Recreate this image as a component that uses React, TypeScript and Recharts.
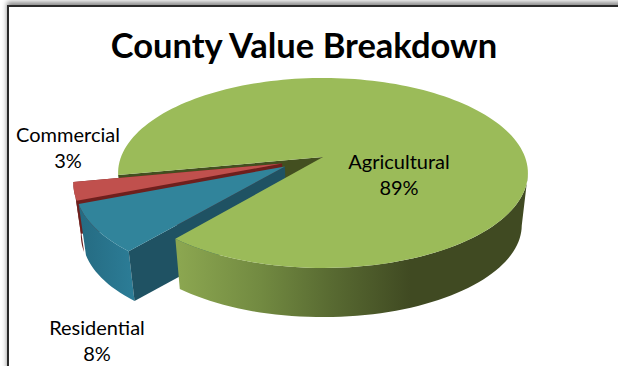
import { PieChart, Pie } from 'recharts'

const sliceNames = ['Agricultural', 'Residential', 'Commercial']
const sliceValues = [89, 8, 3]
const sliceColors = ['#9bbb59', '#31849b', '#c0504d']
const wallColors = ['#434f20', '#1f5263', '#6e1f1d']
// how far each slice is pulled off the disc, as fractions of the radius
const pullX = [0, -0.185, -0.2]
const pullY = [0, 0.1, 0.07]

const labelAnchors: Record<string, [number, number]> = {
  Agricultural: [399, 169],
  Residential: [97, 335],
  Commercial: [68, 142],
}

// projection of the tilted disc: tilt flattens y, lean makes the near edge larger
const tilt = 0.457
const lean = 0.168
const bottomScale = 0.97
const bottomDrop = 52.5

const tableData = sliceNames.map((name, i) => ({
  name,
  value: sliceValues[i],
  fill: sliceColors[i],
  pullX: pullX[i],
  pullY: pullY[i],
}))

type Pt = [number, number]

function projector(cx: number, cy: number, radius: number, ox: number, oy: number) {
  const rad = Math.PI / 180
  const onDisc = (u: number, v: number): Pt => {
    const s = 1 / (1 - lean * v)
    return [cx + radius * u * s, cy + radius * tilt * v * s]
  }
  const top = (angle: number, r = 1): Pt =>
    onDisc(ox + r * Math.cos(angle * rad), oy - r * Math.sin(angle * rad))
  const drop = ([x, y]: Pt): Pt => [
    cx + (x - cx) * bottomScale,
    cy + (y - cy) * bottomScale + bottomDrop,
  ]
  return { top, drop }
}

const toPath = (pts: Pt[]) =>
  'M' + pts.map(p => `${p[0].toFixed(2)},${p[1].toFixed(2)}`).join('L') + 'Z'

function sweep(from: number, to: number) {
  const steps = Math.max(2, Math.ceil(Math.abs(to - from) / 2))
  const out: number[] = []
  for (let i = 0; i <= steps; i++) out.push(from + ((to - from) * i) / steps)
  return out
}

// one layer per Pie, so the stacking order can differ from the data order
function sliceShape(layer: string) {
  return function Slice(props: any) {
    const { cx, cy, outerRadius, startAngle, endAngle, name, fill, payload } = props
    const i = sliceNames.indexOf(name)
    const { top, drop } = projector(cx, cy, outerRadius, payload.pullX, payload.pullY)
    const rim = sweep(startAngle, endAngle).map(a => top(a))
    const face = toPath([top(0, 0), ...rim])

    if (layer === 'innerWall') {
      if (name !== 'Agricultural') return <g />
      const a = top(startAngle)
      const c = top(0, 0)
      return <path d={toPath([c, a, drop(a), drop(c)])} fill={wallColors[i]} />
    }
    if (layer !== name) return <g />

    if (name === 'Agricultural') {
      // only the front of the rim shows, from the cut edge round to the widest point on the right
      const front = sweep(endAngle, -10).map(a => top(a))
      return (
        <g>
          <defs>
            <linearGradient id="greenRim" gradientUnits="userSpaceOnUse" x1="180" y1="0" x2="410" y2="0">
              <stop offset="0" stopColor="#8ba650" />
              <stop offset="0.35" stopColor="#728a41" />
              <stop offset="0.65" stopColor="#596b32" />
              <stop offset="1" stopColor="#404a22" />
            </linearGradient>
          </defs>
          <path d={toPath([...front, ...front.map(drop).reverse()])} fill="url(#greenRim)" />
          <path d={face} fill={fill} />
        </g>
      )
    }

    const cutEdge = name === 'Residential' ? top(startAngle) : top(endAngle)
    const apex = top(0, 0)
    return (
      <g>
        <defs>
          <linearGradient id="blueRim" gradientUnits="userSpaceOnUse" x1="80" y1="0" x2="135" y2="0">
            <stop offset="0" stopColor="#256b82" />
            <stop offset="1" stopColor="#2c7d97" />
          </linearGradient>
        </defs>
        <path d={toPath([...rim, ...rim.map(drop).reverse()])} fill={name === 'Residential' ? 'url(#blueRim)' : wallColors[i]} />
        <path d={toPath([apex, cutEdge, drop(cutEdge), drop(apex)])} fill={wallColors[i]} />
        <path d={face} fill={fill} />
      </g>
    )
  }
}

function sliceLabel(props: any) {
  const { name, percent } = props
  const [x, y] = labelAnchors[name]
  return (
    <text x={x} y={y} textAnchor="middle" fontFamily="Lato" fontSize={20} fill="#000">
      <tspan x={x} dy={0}>{name}</tspan>
      <tspan x={x} dy={26}>{`${Math.round(percent * 100)}%`}</tspan>
    </text>
  )
}

const layers = ['innerWall', 'Commercial', 'Residential', 'Agricultural']

export default function App() {
  return (
    <div style={{ position: 'absolute', left: 0, top: 0, width: 618, height: 366, background: '#fff', overflow: 'hidden' }}>
      <div
        style={{
          position: 'absolute',
          left: 7,
          top: 5,
          width: 700,
          height: 500,
          borderLeft: '2px solid #2a2a2a',
          borderTop: '2px solid #2a2a2a',
          boxShadow: '0 -3px 5px #888',
        }}
      />
      <PieChart
        width={618}
        height={366}
        margin={{ top: 0, right: 0, bottom: 0, left: 0 }}
        style={{ position: 'absolute', left: 0, top: 0 }}
      >
        {layers.map(layer => (
          <Pie
            key={layer}
            data={tableData}
            dataKey="value"
            nameKey="name"
            cx={323}
            cy={157}
            outerRadius={202}
            startAngle={190.9}
            endAngle={-169.1}
            stroke="none"
            isAnimationActive={false}
            shape={sliceShape(layer)}
            label={layer === 'Agricultural' ? sliceLabel : false}
            labelLine={false}
          />
        ))}
        <text x={304} y={58} textAnchor="middle" fontFamily="Lato" fontWeight={700} fontSize={34.5} fill="#000">
          County Value Breakdown
        </text>
      </PieChart>
    </div>
  )
}
